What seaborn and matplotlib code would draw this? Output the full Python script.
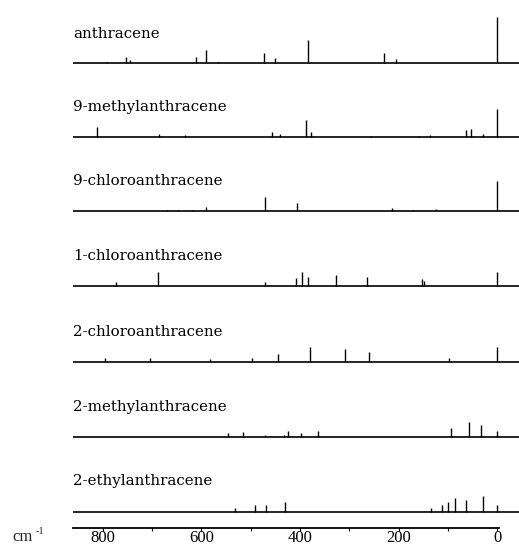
import matplotlib
matplotlib.use("Agg")
import matplotlib.pyplot as plt
import matplotlib.transforms as mtransforms
import seaborn as sns
import numpy as np
import pandas as pd

# ---------------- data (wavenumber in cm^-1, relative intensity) ----------------
compounds = ["anthracene", "9-methylanthracene", "9-chloroanthracene",
             "1-chloroanthracene", "2-chloroanthracene", "2-methylanthracene",
             "2-ethylanthracene"]

anthracene_pos = [791, 753, 745, 611, 590, 567, 473, 451, 384, 229, 206, 0]
anthracene_int = [1.5, 6, 3, 6, 13, 1.5, 10.6, 5, 23, 10, 4, 46.6]

methyl9_pos = [812, 686, 634, 456, 441, 388, 377, 255, 158, 136, 63, 54, 28, 0]
methyl9_int = [10, 3, 2, 5, 3, 17, 5, 1.5, 1.5, 2.5, 7, 8, 3, 28]

chloro9_pos = [669, 647, 616, 590, 470, 406, 213, 171, 124, 0]
chloro9_int = [1.5, 1.5, 1.5, 4.3, 13.7, 7.7, 3.3, 1, 1.7, 30]

chloro1_pos = [772, 688, 470, 407, 395, 384, 326, 265, 152, 149, 0]
chloro1_int = [4.3, 14.3, 4.3, 8.3, 14.3, 9.3, 11, 9.3, 6.7, 5, 14.3]

chloro2_pos = [795, 704, 582, 497, 445, 379, 309, 260, 97, 0]
chloro2_int = [3.3, 3.3, 2.7, 4, 7.3, 15, 12.3, 9.7, 3.3, 14.3]

methyl2_pos = [545, 515, 470, 433, 424, 397, 364, 93, 57, 34, 0]
methyl2_int = [3.3, 4.3, 2, 2, 5.7, 3.3, 6, 8.3, 14.3, 11.7, 6]

ethyl2_pos = [532, 492, 468, 431, 134, 112, 99, 85, 63, 28, 0]
ethyl2_int = [4, 6.7, 6.7, 10, 4, 6.7, 9.3, 13.3, 11.7, 15.7, 6.7]

major_ticks = [800, 600, 400, 200, 0]
minor_ticks = [700, 500, 300, 100]
tick_labels = ["800", "600", "400", "200", "0"]
axis_unit = "cm"
axis_unit_sup = "-1"

series = [(anthracene_pos, anthracene_int), (methyl9_pos, methyl9_int),
          (chloro9_pos, chloro9_int), (chloro1_pos, chloro1_int),
          (chloro2_pos, chloro2_int), (methyl2_pos, methyl2_int),
          (ethyl2_pos, ethyl2_int)]

df = pd.concat([pd.DataFrame({"compound": c, "pos": p, "int": h})
                for c, (p, h) in zip(compounds, series)], ignore_index=True)

# ---------------- style ----------------
sns.set_theme(style="white")
plt.rcParams["font.family"] = ["Liberation Serif", "DejaVu Serif"]

W, H = 519, 550
fig = plt.figure(figsize=(W / 100, H / 100), dpi=100)
fig.patch.set_facecolor("white")

baselines = [63.5, 137, 211, 286, 361.5, 436.5, 511.5]
left_px, right_px = 73, 519
xlim = (860, -44)

axes = []
for i, (name, yb) in enumerate(zip(compounds, baselines)):
    ax = fig.add_axes([left_px / W, 1 - (yb + 3) / H, (right_px - left_px) / W, 63 / H])
    ax.set_facecolor("none")
    sub = df[df["compound"] == name]
    ax.set_xlim(*xlim)
    ax.set_ylim(-3, 60)
    ax.axhline(0, color="black", lw=1.2)
    ax.vlines(sub["pos"], 0, sub["int"], color="black", lw=1.0, clip_on=False)
    tr = mtransforms.blended_transform_factory(ax.transAxes, ax.transData)
    ax.text(0.0, 26, name, transform=tr, fontfamily="DejaVu Serif",
            fontsize=10.8, va="baseline", ha="left", color="black")
    sns.despine(ax=ax, left=True, bottom=True, top=True, right=True)
    ax.set_yticks([])
    ax.set_xticks([])
    axes.append(ax)

# bottom scale on last panel
ax = axes[-1]
ax.spines["bottom"].set_visible(True)
ax.spines["bottom"].set_color("black")
ax.spines["bottom"].set_linewidth(1.3)
ax.spines["bottom"].set_position(("outward", 9.9))
ax.spines["bottom"].set_bounds(-3.5, 860)
ax.set_xticks(major_ticks)
ax.set_xticklabels(tick_labels)
ax.set_xticks(minor_ticks, minor=True)
ax.tick_params(axis="x", which="both", direction="out", length=2.4, width=0.8,
               color="black", bottom=True, pad=-1, labelsize=12, labelcolor="black")

fig.text(12 / W, 1 - 541 / H, axis_unit, fontsize=12, va="baseline", ha="left",
         fontfamily="Liberation Serif")
fig.text(36 / W, 1 - 533.5 / H, axis_unit_sup, fontsize=7.5, va="baseline", ha="left",
         fontfamily="Liberation Serif")

fig.savefig("out.png", dpi=100, facecolor="white")
